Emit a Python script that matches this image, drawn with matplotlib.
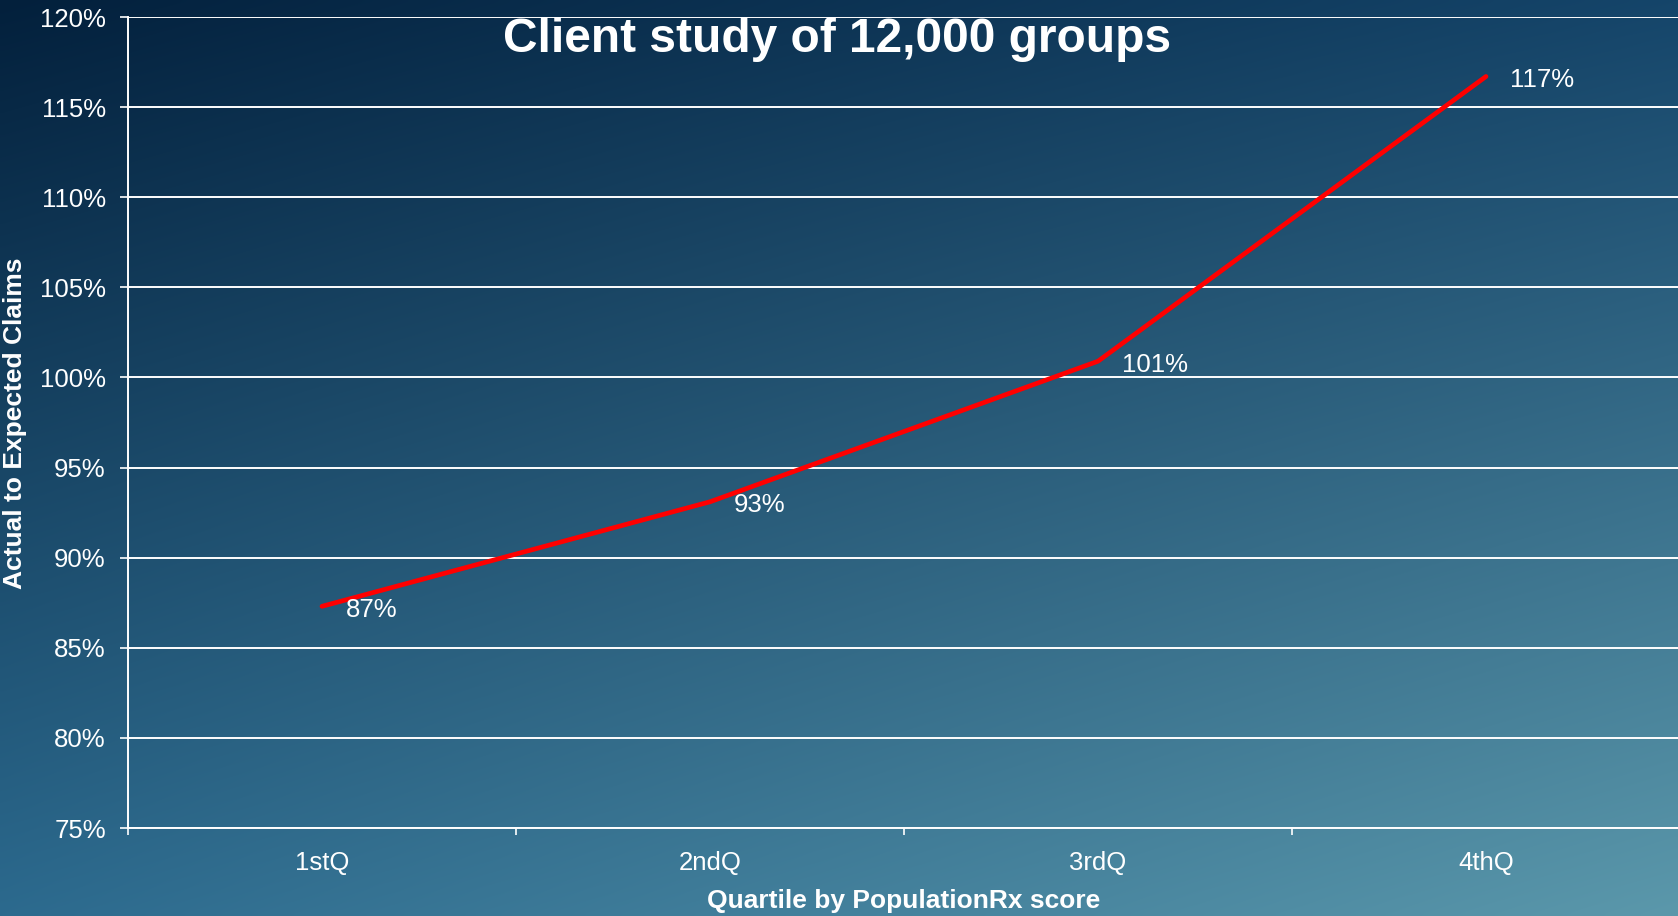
import numpy as np
import matplotlib
matplotlib.use("Agg")
import matplotlib.pyplot as plt
from matplotlib.colors import to_rgb

plt.rcParams["font.family"] = ["Liberation Sans", "DejaVu Sans"]

# Data
quartiles = ["1stQ", "2ndQ", "3rdQ", "4thQ"]
actual_to_expected = [87.3, 93.1, 100.9, 116.7]
y_ticks = [75, 80, 85, 90, 95, 100, 105, 110, 115, 120]

title = "Client study of 12,000 groups"
x_label = "Quartile by PopulationRx score"
y_label = "Actual to Expected Claims"

W, H, DPI = 1678, 916, 100
fig = plt.figure(figsize=(W / DPI, H / DPI), dpi=DPI)

# Diagonal blue background gradient (bilinear between four corner colours)
tl, tr = np.array(to_rgb("#03203c")), np.array(to_rgb("#15456a"))
bl, br = np.array(to_rgb("#2c6a8e")), np.array(to_rgb("#5b98ab"))
u = np.linspace(0, 1, 400)[None, :, None]
v = np.linspace(0, 1, 220)[:, None, None]
grad = (1 - v) * ((1 - u) * tl + u * tr) + v * ((1 - u) * bl + u * br)
bg = fig.add_axes([0, 0, 1, 1], zorder=0)
bg.imshow(grad, aspect="auto", extent=[0, 1, 0, 1], interpolation="bicubic")
bg.set_axis_off()

left, right = 128 / W, 1680 / W
bottom, top = 1 - 828 / H, 1 - 17 / H
ax = fig.add_axes([left, bottom, right - left, top - bottom], zorder=1)
ax.set_facecolor("none")

x = np.arange(len(quartiles)) + 0.5
ax.plot(x, actual_to_expected, color="#ff0000", lw=3.4, solid_capstyle="round",
        solid_joinstyle="round", zorder=3, clip_on=False)

for xi, yi in zip(x, actual_to_expected):
    ax.annotate(f"{yi:.0f}%", (xi, yi), xytext=(17, -2.5), textcoords="offset points",
                ha="left", va="center", color="white", fontsize=18.5, zorder=4)

ax.set_xlim(0, len(quartiles))
ax.set_ylim(y_ticks[0], y_ticks[-1])

ax.set_yticks(y_ticks)
ax.set_yticklabels([f"{t}%" for t in y_ticks])
ax.yaxis.grid(True, color="white", lw=1.4)
ax.set_axisbelow(True)

ax.set_xticks(np.arange(len(quartiles) + 1))
ax.set_xticklabels([])
ax.set_xticks(x, minor=True)
ax.set_xticklabels(quartiles, minor=True)

ax.tick_params(axis="y", colors="white", labelcolor="white", length=6, width=1.2,
               pad=10, labelsize=18.5)
ax.tick_params(axis="x", which="major", colors="white", length=5, width=1.2)
ax.tick_params(axis="x", which="minor", length=0, pad=16.5, labelsize=18.5,
               labelcolor="white")

for side in ("top", "right"):
    ax.spines[side].set_visible(False)
for side in ("left", "bottom"):
    ax.spines[side].set_color("white")
    ax.spines[side].set_linewidth(1.4)

fig.text(15 / W, 1 - 423 / H, y_label, rotation=90, ha="center", va="center",
         color="white", fontsize=19, fontweight="bold")
fig.text(904 / W, 1 - 901 / H, x_label, ha="center", va="center",
         color="white", fontsize=19, fontweight="bold")
fig.text(837 / W, 1 - 52.5 / H, title, ha="center", va="baseline",
         color="white", fontsize=34.5, fontweight="bold", zorder=5)

fig.savefig("out.png", dpi=DPI)
